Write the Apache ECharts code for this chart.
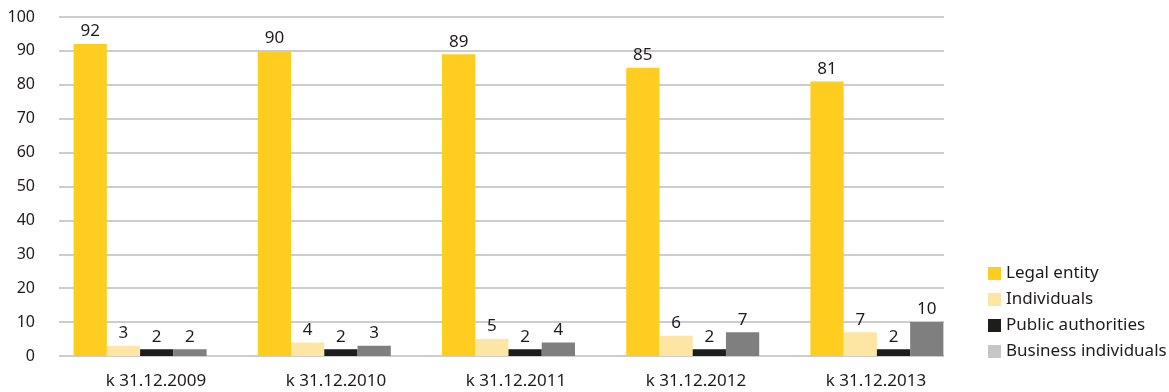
<!DOCTYPE html>
<html>
<head>
<meta charset="utf-8">
<script src="https://cdn.jsdelivr.net/npm/echarts@6/dist/echarts.min.js"></script>
<style>
html, body { margin: 0; padding: 0; background: #fff; }
#chart { width: 1169px; height: 392px; }
</style>
</head>
<body>
<div id="chart"></div>
<script>
// data
var categories = ['k 31.12.2009', 'k 31.12.2010', 'k 31.12.2011', 'k 31.12.2012', 'k 31.12.2013'];
var legalEntity = [92, 90, 89, 85, 81];
var individuals = [3, 4, 5, 6, 7];
var publicAuthorities = [2, 2, 2, 2, 2];
var businessIndividuals = [2, 3, 4, 7, 10];
var seriesNames = ['Legal entity', 'Individuals', 'Public authorities', 'Business individuals'];

var font = 'Noto Sans';
var textColor = '#1f1b1c';

var chart = echarts.init(document.getElementById('chart'));

function barSeries(name, data, color) {
    return {
        name: name,
        type: 'bar',
        xAxisIndex: 2,
        yAxisIndex: 2,
        data: data,
        barWidth: 33.25,
        barGap: 0,
        itemStyle: { color: color },
        label: {
            show: true,
            position: 'top',
            distance: 4,
            color: textColor,
            fontFamily: font,
            fontSize: 17
        }
    };
}

chart.setOption({
    animation: false,
    // grid 0: gridlines + y labels, grid 1: category labels, grid 2: bars
    grid: [
        { left: 59, top: 17, width: 885, height: 339 },
        { left: 66, top: 17, width: 900, height: 339 },
        { left: 48, top: 17, width: 921, height: 339 }
    ],
    legend: {
        orient: 'vertical',
        left: 983,
        top: 260,
        itemWidth: 13,
        itemHeight: 13,
        itemGap: 9,
        icon: 'rect',
        textStyle: { color: textColor, fontFamily: font, fontSize: 17 },
        data: [
            { name: seriesNames[0] },
            { name: seriesNames[1] },
            { name: seriesNames[2] },
            { name: seriesNames[3], itemStyle: { color: '#c6c6c6' } }
        ]
    },
    xAxis: [
        { type: 'category', gridIndex: 0, data: categories, show: false },
        {
            type: 'category', gridIndex: 1, data: categories,
            axisLine: { show: false }, axisTick: { show: false },
            axisLabel: { color: textColor, fontFamily: font, fontSize: 17, margin: 17 }
        },
        { type: 'category', gridIndex: 2, data: categories, show: false }
    ],
    yAxis: [
        {
            type: 'value', gridIndex: 0, min: 0, max: 100, interval: 10,
            axisLine: { show: false }, axisTick: { show: false },
            axisLabel: { color: textColor, fontFamily: font, fontSize: 16, margin: 24 },
            splitLine: { lineStyle: { color: '#bcbcbc', width: 1.5 } }
        },
        { type: 'value', gridIndex: 1, min: 0, max: 100, show: false, splitLine: { show: false } },
        { type: 'value', gridIndex: 2, min: 0, max: 100, show: false, splitLine: { show: false } }
    ],
    series: [
        barSeries(seriesNames[0], legalEntity, '#fecd1f'),
        barSeries(seriesNames[1], individuals, '#fde5a3'),
        barSeries(seriesNames[2], publicAuthorities, '#1d1d1b'),
        barSeries(seriesNames[3], businessIndividuals, '#7f7f7f')
    ]
});
</script>
</body>
</html>
